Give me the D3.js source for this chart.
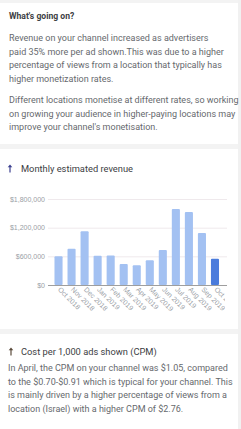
<!DOCTYPE html>
<html>
<head>
<meta charset="utf-8">
<script src="https://cdn.jsdelivr.net/npm/d3@7"></script>
<style>
  body { margin: 0; background: #fff; }
  svg { display: block; font-family: Roboto, "Noto Sans", sans-serif; }
  .para { fill: #66696d; font-size: 9px; }
  .title { fill: #3c4043; font-size: 9.3px; }
  .axis text { fill: #9aa0a6; font-size: 7px; }
</style>
</head>
<body>
<div id="chart"></div>
<script>
// data
var months = ["Oct 2018", "Nov 2018", "Dec 2018", "Jan 2019", "Feb 2019", "Mar 2019", "Apr 2019",
              "May 2019", "Jun 2019", "Jul 2019", "Aug 2019", "Sep 2019", "Oct 2019"];
var revenue = [600000, 760000, 1125000, 613000, 620000, 440000, 412000,
               516000, 732000, 1590000, 1528000, 1088000, 550000];
var yTicks = [0, 600000, 1200000, 1800000];

var introLines = ["Revenue on your channel increased as advertisers",
                  "paid 35% more per ad shown.This was due to a higher",
                  "percentage of views from a location that typically has",
                  "higher monetization rates."];
var introLines2 = ["Different locations monetise at different rates, so working",
                   "on growing your audience in higher-paying locations may",
                   "improve your channel's monetisation."];
var cpmLines = ["In April, the CPM on your channel was $1.05, compared",
                "to the $0.70-$0.91 which is typical for your channel. This",
                "is mainly driven by a higher percentage of views from a",
                "location (Israel) with a higher CPM of $2.76."];

var W = 241, H = 429;
var svg = d3.select("#chart").append("svg")
    .attr("width", W)
    .attr("height", H);

// card separators
svg.append("rect").attr("x", 0).attr("y", 0).attr("width", W).attr("height", 3).attr("fill", "#f3f3f3");
svg.append("rect").attr("x", 0).attr("y", 144).attr("width", W).attr("height", 5).attr("fill", "#f3f3f3");
svg.append("rect").attr("x", 0).attr("y", 329).attr("width", W).attr("height", 5).attr("fill", "#f3f3f3");
svg.append("rect").attr("x", 238).attr("y", 0).attr("width", 3).attr("height", H).attr("fill", "#f1f1f1");

// text blocks
svg.append("text").attr("x", 9).attr("y", 19)
    .attr("fill", "#3c4043").style("font-size", "8.6px").style("font-weight", "bold")
    .text("What's going on?");

function lines(arr, x, y0, lh) {
    svg.append("g").selectAll("text")
        .data(arr)
        .enter()
        .append("text")
        .attr("class", "para")
        .attr("x", x)
        .attr("y", function (d, i) { return y0 + i * lh; })
        .text(function (d) { return d; });
}
lines(introLines, 9, 41, 13.7);
lines(introLines2, 9, 103, 13.7);
lines(cpmLines, 8, 371, 13.6);

// little up arrows
function arrow(x, y, color) {
    svg.append("path")
        .attr("d", "M" + x + "," + (y + 8) + "V" + (y + 1.5))
        .attr("stroke", color).attr("stroke-width", 1.2);
    svg.append("path")
        .attr("d", "M" + (x - 2.3) + "," + (y + 2.8) + "L" + x + "," + y + "L" + (x + 2.3) + "," + (y + 2.8) + "Z")
        .attr("fill", color);
}
arrow(10, 164.5, "#3b3f8f");
svg.append("text").attr("class", "title").attr("x", 21).attr("y", 172).text("Monthly estimated revenue");
arrow(11, 347.5, "#5a4a3a");
svg.append("text").attr("class", "title").attr("x", 21).attr("y", 355).text("Cost per 1,000 ads shown (CPM)");

// chart
var x = d3.scaleBand()
    .domain(months)
    .range([52, 221.5])
    .paddingInner(0.38)
    .paddingOuter(0.19);

var y = d3.scaleLinear()
    .domain([0, 1800000])
    .range([285, 199]);

// gridlines
svg.append("g")
    .attr("transform", "translate(48,0)")
    .call(d3.axisLeft(y).tickValues(yTicks).tickSize(-179).tickFormat(""))
    .call(function (g) { g.select(".domain").remove(); })
    .selectAll("line")
    .attr("stroke", function (d) { return d === 0 ? "#9e9e9e" : "#efe9ec"; })
    .attr("stroke-width", 1);

// y labels
svg.append("g")
    .attr("class", "axis")
    .attr("transform", "translate(45,0)")
    .call(d3.axisLeft(y).tickValues(yTicks).tickSize(0).tickPadding(0)
        .tickFormat(function (d) { return "$" + d3.format(",")(d); }))
    .call(function (g) { g.select(".domain").remove(); });

// bars
svg.append("g")
    .selectAll("rect")
    .data(revenue)
    .enter()
    .append("rect")
    .attr("x", function (d, i) { return x(months[i]); })
    .attr("y", function (d) { return y(d); })
    .attr("width", x.bandwidth())
    .attr("height", function (d) { return y(0) - y(d); })
    .attr("rx", 1)
    .attr("fill", function (d, i) { return i === months.length - 1 ? "#4a7bdc" : "#a3c1f2"; });

// x labels, clipped at the right edge (clip rect in the axis group's local coords)
svg.append("clipPath").attr("id", "xclip")
    .append("rect").attr("x", 0).attr("y", -5).attr("width", 225).attr("height", 60);

svg.append("g")
    .attr("class", "axis")
    .attr("clip-path", "url(#xclip)")
    .attr("transform", "translate(0,285)")
    .call(d3.axisBottom(x).tickSize(0).tickPadding(0))
    .call(function (g) { g.select(".domain").remove(); })
    .selectAll("text")
    .style("text-anchor", "start")
    .attr("dy", "0")
    .attr("transform", "translate(-1,5) rotate(45)");
</script>
</body>
</html>
